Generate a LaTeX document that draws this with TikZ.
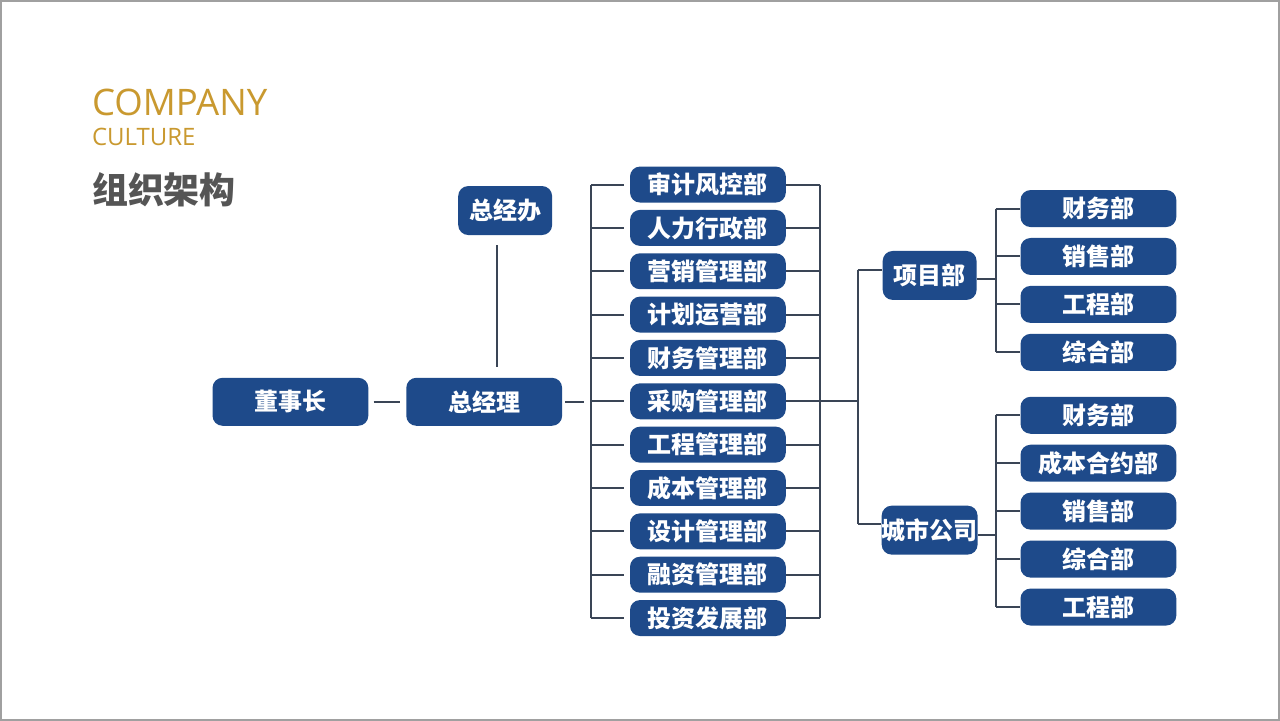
\documentclass[tikz,border=0pt]{standalone}
\usepackage{fontspec}
\newfontfamily\cjk{Noto Sans CJK SC}
\newfontfamily\latn{Open Sans}
\usetikzlibrary{calc}
\definecolor{navy}{HTML}{1E4A8A}
\definecolor{linec}{HTML}{3A4556}
\definecolor{gold}{HTML}{C9992F}
\definecolor{titleg}{HTML}{555555}
\definecolor{framec}{HTML}{A0A0A0}
\tikzset{
  box/.style={fill=navy, rounded corners=5pt, text=white, inner sep=0pt,
    font=\cjk\bfseries\fontsize{12}{12}\selectfont, anchor=center},
  bigbox/.style={box, minimum width=78pt, minimum height=24pt},
  smallbox/.style={box, minimum width=47pt, minimum height=24.5pt},
  midbox/.style={box, minimum width=78pt, minimum height=18pt},
  rbox/.style={box, minimum width=78pt, minimum height=18.5pt},
  conn/.style={draw=linec, line width=1pt},
}
\begin{document}
\begin{tikzpicture}[x=0.5pt,y=-0.5pt]
\draw[framec, line width=0.8pt, fill=white] (0,0) rectangle (1280,720);
\useasboundingbox (0,0) rectangle (1280,720);
% titles
\node[anchor=base west, inner sep=0, text=gold, font=\latn\fontsize{18.3}{18.3}\selectfont] (t1) at (91,115) {COMPANY};
\node[anchor=base west, inner sep=0, text=gold, font=\latn\fontsize{12}{12}\selectfont] (t2) at (91,145) {CULTURE};
\node[anchor=west, inner sep=0, text=titleg, font=\cjk\bfseries\fontsize{18}{18}\selectfont] (t3) at (91,189) {组织架构};
% left nodes
\node[bigbox] (dsz) at (290,401.5) {董事长};
\node[bigbox] (zjl) at (484,401.5) {总经理};
\node[smallbox] (zjb) at (505,210) {总经办};
\coordinate (zjbb) at (497,245);
\coordinate (zjbe) at (497,367);
\draw[conn] (zjbb) -- (zjbe);
\draw[conn] ([xshift=2.5pt]dsz.east) -- ([xshift=-3pt]zjl.west);
% middle column
\foreach \i/\t in {1/审计风控部,2/人力行政部,3/营销管理部,4/计划运营部,5/财务管理部,6/采购管理部,7/工程管理部,8/成本管理部,9/设计管理部,10/融资管理部,11/投资发展部}{
  \node[midbox] (m\i) at (708,{184+43.4*(\i-1)}) {\t};
}
\coordinate (lb) at (591,0);
\coordinate (rb) at (820,0);
\draw[conn] (lb|-m1) -- (lb|-m11);
\draw[conn] (rb|-m1) -- (rb|-m11);
\foreach \i in {1,...,11}{
  \draw[conn] (lb|-m\i) -- ([xshift=-3pt]m\i.west);
  \draw[conn] (m\i.east) -- (rb|-m\i);
}
\draw[conn, shorten >=3.5pt] ([xshift=1.5pt]zjl.east) -- (lb|-zjl);
% second level
\node[smallbox] (xm) at (930,275) {项目部};
\node[smallbox] (cs) at (930,530) {城市公司};
\coordinate (vb1) at (858,270);
\coordinate (vb2) at (858,524);
\draw[conn] (m6.east) -- (rb|-m6) -- (vb1|-m6);
\draw[conn] (vb1) -- (vb2);
\draw[conn] (vb1) -- (vb1-|xm.west);
\draw[conn] (vb2) -- (vb2-|cs.west);
% third level
\foreach \i/\t in {1/财务部,2/销售部,3/工程部,4/综合部}{
  \node[rbox] (a\i) at (1099,{208+48*(\i-1)}) {\t};
}
\foreach \i/\t in {1/财务部,2/成本合约部,3/销售部,4/综合部,5/工程部}{
  \node[rbox] (b\i) at (1099,{415+48*(\i-1)}) {\t};
}
\coordinate (ab) at (996,279);
\coordinate (bb) at (996,535);
\draw[conn] (xm.east|-ab) -- (ab);
\draw[conn] (cs.east|-bb) -- (bb);
\draw[conn] (ab|-a1) -- (ab|-a4);
\draw[conn] (bb|-b1) -- (bb|-b5);
\foreach \i in {1,...,4}{ \draw[conn] (ab|-a\i) -- (a\i.west); }
\foreach \i in {1,...,5}{ \draw[conn] (bb|-b\i) -- (b\i.west); }
\end{tikzpicture}
\end{document}
